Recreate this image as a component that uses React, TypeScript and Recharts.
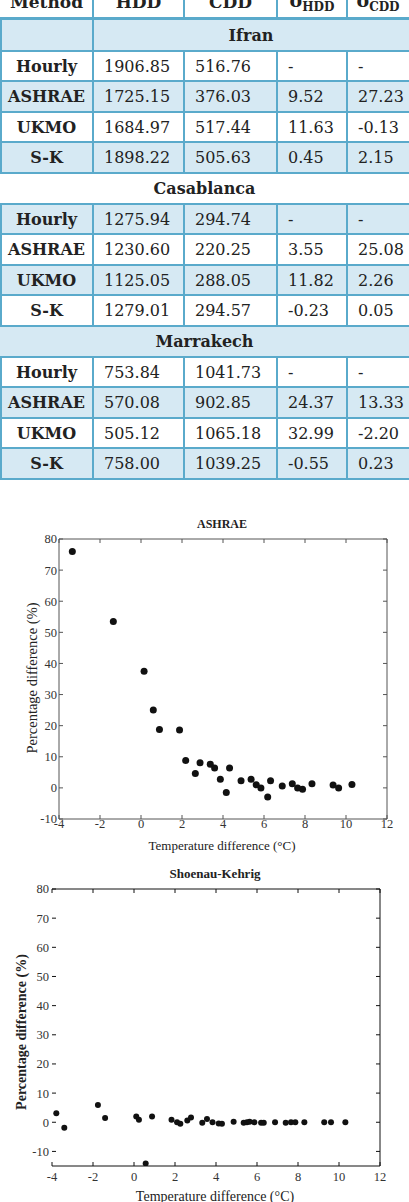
import React from "react"
import { Scatter, ScatterChart, XAxis, YAxis } from "recharts"

// table content
const headers = ["Method", "HDD", "CDD", "δHDD", "δCDD"]
const cities = ["Ifran", "Casablanca", "Marrakech"]
const methods = ["Hourly", "ASHRAE", "UKMO", "S-K"]

const ifranHDD = ["1906.85", "1725.15", "1684.97", "1898.22"]
const ifranCDD = ["516.76", "376.03", "517.44", "505.63"]
const ifranDeltaHDD = ["-", "9.52", "11.63", "0.45"]
const ifranDeltaCDD = ["-", "27.23", "-0.13", "2.15"]

const casaHDD = ["1275.94", "1230.60", "1125.05", "1279.01"]
const casaCDD = ["294.74", "220.25", "288.05", "294.57"]
const casaDeltaHDD = ["-", "3.55", "11.82", "-0.23"]
const casaDeltaCDD = ["-", "25.08", "2.26", "0.05"]

const marraHDD = ["753.84", "570.08", "505.12", "758.00"]
const marraCDD = ["1041.73", "902.85", "1065.18", "1039.25"]
const marraDeltaHDD = ["-", "24.37", "32.99", "-0.55"]
const marraDeltaCDD = ["-", "13.33", "-2.20", "0.23"]

const cityColumns = [
	[ifranHDD, ifranCDD, ifranDeltaHDD, ifranDeltaCDD],
	[casaHDD, casaCDD, casaDeltaHDD, casaDeltaCDD],
	[marraHDD, marraCDD, marraDeltaHDD, marraDeltaCDD]
]

// scatter plots
const xTicks = [-4, -2, 0, 2, 4, 6, 8, 10, 12]
const yTicks = [-10, 0, 10, 20, 30, 40, 50, 60, 70, 80]

const ashraeTemp = [
	-3.35, -1.35, 0.15, 0.6, 0.9, 1.88, 2.18, 2.65, 2.88, 3.38, 3.59, 3.87, 4.16, 4.32,
	4.88, 5.37, 5.62, 5.85, 6.18, 6.32, 6.89, 7.38, 7.64, 7.88, 8.34, 9.37, 9.64, 10.29
]
const ashraePct = [
	76, 53.5, 37.5, 25, 18.8, 18.6, 8.8, 4.6, 8.1, 7.6, 6.4, 2.8, -1.5, 6.4, 2.3, 2.8, 1,
	0, -2.9, 2.3, 0.6, 1.3, 0, -0.4, 1.3, 0.9, 0, 1.1
]

const skTemp = [
	-3.79, -3.4, -1.76, -1.41, 0.11, 0.24, 0.57, 0.88, 1.83, 2.1, 2.26, 2.6, 2.78, 3.33,
	3.56, 3.83, 4.13, 4.29, 4.86, 5.35, 5.51, 5.64, 5.87, 6.2, 6.33, 6.88, 7.4, 7.66, 7.87,
	8.31, 9.28, 9.61, 10.31
]
const skPct = [
	3.1, -1.9, 5.9, 1.5, 2.0, 0.9, -14.1, 2.0, 0.9, 0, -0.5, 0.6, 1.6, -0.2, 1.1, 0, -0.4,
	-0.5, 0.2, -0.2, 0, 0.2, 0, -0.2, -0.2, 0, -0.2, 0, 0, 0, 0, 0, 0
]

const ashraeData = ashraeTemp.map((x, i) => ({ x, y: ashraePct[i] }))
const skData = skTemp.map((x, i) => ({ x, y: skPct[i] }))

const BLUE = "#d6e9f3"
const LINE = "#5aaacb"
const TEXT = "#222"
const colX = [0, 93, 184, 277, 347, 409]
const ROW_H = 30.6
const rowTop = (i: number) => Math.round(20 + i * ROW_H)

const DataTable = () => {
	const cells: React.ReactNode[] = []
	const lines: React.ReactNode[] = []
	const tableFont = { fontFamily: "'DejaVu Serif', serif", fontSize: 16, color: TEXT }

	// header row (cut at the top of the page)
	headers.forEach((h, c) => {
		const delta = h.startsWith("δ")
		cells.push(
			<div
				key={`h-${c}`}
				style={{
					position: "absolute",
					left: colX[c],
					top: -13,
					width: colX[c + 1] - colX[c],
					height: 30,
					display: "flex",
					alignItems: "center",
					justifyContent: "center",
					fontWeight: "bold",
					...tableFont,
					fontSize: 17
				}}
			>
				{delta ? (
					<span>
						<span style={{ fontSize: 19 }}>δ</span>
						<sub style={{ fontSize: 12 }}>{h.slice(1)}</sub>
					</span>
				) : (
					h
				)}
			</div>
		)
		if (c > 0)
			lines.push(
				<div key={`hv-${c}`} style={{ position: "absolute", left: colX[c] - 1, top: 0, width: 2, height: 18, background: LINE }} />
			)
	})
	lines.push(<div key="hline" style={{ position: "absolute", left: 0, top: 17, width: 409, height: 3, background: LINE }} />)

	let r = 0
	cities.forEach((city, ci) => {
		const top = rowTop(r)
		const h = rowTop(r + 1) - top
		const partial = ci === 0
		cells.push(
			<div key={`bg-${r}`} style={{ position: "absolute", left: 0, top, width: 409, height: h, background: r % 2 === 0 ? BLUE : "#fff" }} />
		)
		cells.push(
			<div
				key={`city-${ci}`}
				style={{
					position: "absolute",
					left: partial ? colX[1] : 0,
					top,
					width: partial ? 409 - colX[1] : 409,
					height: h,
					display: "flex",
					alignItems: "center",
					justifyContent: "center",
					fontWeight: "bold",
					...tableFont
				}}
			>
				{city}
			</div>
		)
		if (partial) {
			lines.push(<div key={`cv-${r}`} style={{ position: "absolute", left: colX[1] - 1, top, width: 2, height: h, background: LINE }} />)
			lines.push(<div key={`cl-${r}`} style={{ position: "absolute", left: 0, top, width: 2, height: h, background: LINE }} />)
		}
		lines.push(<div key={`rl-${r}`} style={{ position: "absolute", left: 0, top: top + h - 1, width: 409, height: 2, background: LINE }} />)
		r++

		methods.forEach((m, mi) => {
			const t = rowTop(r)
			const rh = rowTop(r + 1) - t
			cells.push(
				<div key={`bg-${r}`} style={{ position: "absolute", left: 0, top: t, width: 409, height: rh, background: r % 2 === 0 ? BLUE : "#fff" }} />
			)
			const values = [m, ...cityColumns[ci].map((col) => col[mi])]
			values.forEach((v, c) => {
				cells.push(
					<div
						key={`c-${r}-${c}`}
						style={{
							position: "absolute",
							left: colX[c],
							top: t,
							width: colX[c + 1] - colX[c],
							height: rh,
							display: "flex",
							alignItems: "center",
							justifyContent: c === 0 ? "center" : "flex-start",
							paddingLeft: c === 0 ? 0 : 11,
							boxSizing: "border-box",
							fontWeight: c === 0 ? "bold" : "normal",
							...tableFont
						}}
					>
						{v}
					</div>
				)
			})
			for (let c = 0; c < 5; c++) {
				lines.push(
					<div key={`v-${r}-${c}`} style={{ position: "absolute", left: Math.max(0, colX[c] - 1), top: t, width: 2, height: rh, background: LINE }} />
				)
			}
			lines.push(<div key={`rl-${r}`} style={{ position: "absolute", left: 0, top: t + rh - 1, width: 409, height: 2, background: LINE }} />)
			r++
		})
	})

	return (
		<>
			{cells}
			{lines}
		</>
	)
}

interface PanelProps {
	data: { x: number; y: number }[]
	top: number
	height: number
	margin: { top: number; right: number; bottom: number; left: number }
	yDomain: [number, number]
	radius: number
	axisColor: string
	leftLine: boolean
	xTickMargin: number
	yTickMargin: number
}

const ScatterPanel = ({ data, top, height, margin, yDomain, radius, axisColor, leftLine, xTickMargin, yTickMargin }: PanelProps) => {
	const tickStyle = { fontSize: 12.5, fill: "#333", fontFamily: "'Liberation Serif', serif" }
	return (
		<div style={{ position: "absolute", left: 0, top }}>
			<ScatterChart width={409} height={height} margin={margin}>
				<XAxis
					type="number"
					dataKey="x"
					domain={[-4, 12]}
					ticks={xTicks}
					allowDataOverflow
					height={30}
					stroke={axisColor}
					tickSize={-4}
					tickMargin={xTickMargin}
					tick={tickStyle}
				/>
				<XAxis
					xAxisId="top"
					orientation="top"
					type="number"
					dataKey="x"
					domain={[-4, 12]}
					ticks={xTicks}
					allowDataOverflow
					height={1}
					stroke={axisColor}
					tickSize={-4}
					tickFormatter={() => ""}
				/>
				<YAxis
					type="number"
					dataKey="y"
					domain={yDomain}
					ticks={yTicks}
					allowDataOverflow
					width={40}
					stroke={axisColor}
					axisLine={leftLine}
					tickSize={-4}
					tickMargin={yTickMargin}
					tick={tickStyle}
				/>
				<YAxis
					yAxisId="right"
					orientation="right"
					type="number"
					dataKey="y"
					domain={yDomain}
					ticks={yTicks}
					allowDataOverflow
					width={1}
					stroke={axisColor}
					tickSize={-4}
					tickFormatter={() => ""}
				/>
				{/* invisible copy that ties the top and right frame axes in */}
				<Scatter
					data={data}
					xAxisId="top"
					yAxisId="right"
					isAnimationActive={false}
					shape={() => <g />}
				/>
				<Scatter
					data={data}
					fill="#111"
					isAnimationActive={false}
					shape={(p: any) => <circle cx={p.cx} cy={p.cy} r={radius} fill="#111" />}
				/>
			</ScatterChart>
		</div>
	)
}

const Caption = ({ text, x, y, size, bold, rotate }: { text: string; x: number; y: number; size: number; bold?: boolean; rotate?: boolean }) => (
	<div
		style={{
			position: "absolute",
			left: x,
			top: y,
			transform: `translate(-50%, -50%)${rotate ? " rotate(-90deg)" : ""}`,
			whiteSpace: "nowrap",
			fontFamily: "'Liberation Serif', serif",
			fontSize: size,
			fontWeight: bold ? "bold" : "normal",
			color: "#222",
			lineHeight: 1
		}}
	>
		{text}
	</div>
)

const App = () => {
	return (
		<div style={{ position: "absolute", left: 0, top: 0, width: 409, height: 1202, overflow: "hidden", background: "#fff" }}>
			<DataTable />

			<Caption text="ASHRAE" x={222} y={524} size={12} bold />
			<ScatterPanel
				data={ashraeData}
				top={500}
				height={360}
				margin={{ top: 38, right: 21, bottom: 11, left: 19 }}
				yDomain={[-10, 80]}
				radius={3.5}
				axisColor="#555"
				leftLine
				xTickMargin={4}
				yTickMargin={6}
			/>
			<Caption text="Percentage difference (%)" x={32} y={678} size={14.5} rotate />
			<Caption text="Temperature difference (°C)" x={222} y={845} size={13} />

			<Caption text="Shoenau-Kehrig" x={215} y={873} size={13} bold />
			<ScatterPanel
				data={skData}
				top={880}
				height={322}
				margin={{ top: 8, right: 28, bottom: 6, left: 12 }}
				yDomain={[-15, 80]}
				radius={3}
				axisColor="#111"
				leftLine={false}
				xTickMargin={10}
				yTickMargin={7}
			/>
			<Caption text="Percentage difference (%)" x={22} y={1032} size={14} bold rotate />
			<Caption text="Temperature difference (°C)" x={215} y={1197} size={14} />
		</div>
	)
}

export default App
